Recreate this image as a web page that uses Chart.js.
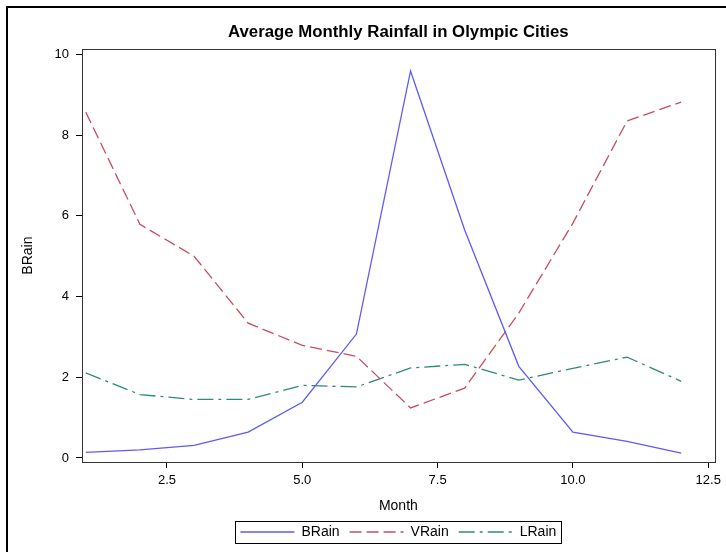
<!DOCTYPE html>
<html lang="en">
<head>
<meta charset="UTF-8">
<title>Average Monthly Rainfall in Olympic Cities</title>
<style>
  body { margin: 0; background: #fff; overflow: hidden; }
  #wrap { position: relative; width: 726px; height: 552px; }
  #frame { position: absolute; left: 6px; top: 6px; width: 800px; height: 600px; border: 2px solid #000; }
  canvas { position: absolute; left: 0; top: 0; }
</style>
</head>
<body>
<div id="wrap">
  <div id="frame"></div>
  <canvas id="myChart" width="726" height="552"></canvas>
</div>

<script src="https://cdn.jsdelivr.net/npm/chart.js"></script>
<script>
  // values
  const months = [1, 2, 3, 4, 5, 6, 7, 8, 9, 10, 11, 12];
  const bRain = [0.14, 0.20, 0.31, 0.64, 1.38, 3.07, 9.59, 5.65, 2.27, 0.64, 0.41, 0.12];
  const vRain = [8.57, 5.79, 5.00, 3.34, 2.79, 2.52, 1.24, 1.73, 3.59, 5.82, 8.35, 8.82];
  const lRain = [2.11, 1.57, 1.45, 1.45, 1.80, 1.76, 2.23, 2.32, 1.93, 2.22, 2.50, 1.90];

  const xTicks = [2.5, 5.0, 7.5, 10.0, 12.5];
  const yTicks = [0, 2, 4, 6, 8, 10];

  const font = 'Arial, "Liberation Sans", sans-serif';

  function toPoints(ys) {
    return months.map((m, i) => ({ x: m, y: ys[i] }));
  }

  // box round the plot area and round the legend
  const frames = {
    id: 'frames',
    afterDraw(chart) {
      const ctx = chart.ctx;
      const a = chart.chartArea;
      ctx.save();
      ctx.strokeStyle = '#333';
      ctx.lineWidth = 1;
      ctx.setLineDash([]);
      ctx.strokeRect(Math.round(a.left) + 0.5, Math.round(a.top) + 0.5,
        Math.round(a.right - a.left), Math.round(a.bottom - a.top));

      const boxes = chart.legend.legendHitBoxes;
      if (boxes && boxes.length) {
        let l = Infinity, r = -Infinity, t = Infinity, b = -Infinity;
        boxes.forEach(h => {
          l = Math.min(l, h.left); r = Math.max(r, h.left + h.width);
          t = Math.min(t, h.top); b = Math.max(b, h.top + h.height);
        });
        ctx.strokeStyle = '#000';
        ctx.strokeRect(Math.round(l - 5) + 0.5, Math.round(t - 4) + 0.5,
          Math.round(r - l + 10), Math.round(b - t + 8));
      }
      ctx.restore();
    }
  };

  const ctx = document.getElementById('myChart');

  new Chart(ctx, {
    type: 'line',
    data: {
      datasets: [{
        label: 'BRain',
        data: toPoints(bRain),
        borderColor: '#5c5cf2',
        backgroundColor: '#5c5cf2',
        borderWidth: 1.3
      }, {
        label: 'VRain',
        data: toPoints(vRain),
        borderColor: '#c84c60',
        backgroundColor: '#c84c60',
        borderWidth: 1.3,
        borderDash: [12, 5]
      }, {
        label: 'LRain',
        data: toPoints(lRain),
        borderColor: '#2e8a7a',
        backgroundColor: '#2e8a7a',
        borderWidth: 1.3,
        borderDash: [16, 5, 3, 5]
      }]
    },
    options: {
      responsive: false,
      animation: false,
      layout: { padding: { left: 0, right: 10, top: 0, bottom: 3 } },
      elements: {
        point: { radius: 0, hoverRadius: 0 },
        line: { tension: 0 }
      },
      scales: {
        x: {
          type: 'linear',
          min: 0.93,
          max: 12.62,
          afterBuildTicks: (s) => { s.ticks = xTicks.map(v => ({ value: v })); },
          afterFit: (s) => { s.height = 53; },
          border: { display: false },
          grid: { drawOnChartArea: false, drawTicks: true, tickLength: 6, color: '#000' },
          ticks: {
            padding: 5,
            color: '#000',
            font: { family: font, size: 13 },
            callback: (v) => Number(v).toFixed(1)
          },
          title: {
            display: true,
            text: 'Month',
            color: '#000',
            font: { family: font, size: 14 },
            padding: { top: 0, bottom: 0 }
          }
        },
        y: {
          min: -0.1,
          max: 10.13,
          afterBuildTicks: (s) => { s.ticks = yTicks.map(v => ({ value: v })); },
          afterFit: (s) => { s.width = 82; },
          border: { display: false },
          grid: { drawOnChartArea: false, drawTicks: true, tickLength: 6, color: '#000' },
          ticks: {
            padding: 7,
            color: '#000',
            font: { family: font, size: 13 },
            callback: (v) => String(v)
          },
          title: {
            display: true,
            text: 'BRain',
            color: '#000',
            font: { family: font, size: 14 },
            padding: { top: 20, bottom: 0 }
          }
        }
      },
      plugins: {
        title: {
          display: true,
          fullSize: false,
          text: 'Average Monthly Rainfall in Olympic Cities',
          color: '#000',
          font: { family: font, size: 16.8, weight: 'bold' },
          padding: { top: 22, bottom: 7 }
        },
        legend: {
          position: 'bottom',
          fullSize: false,
          labels: {
            usePointStyle: true,
            pointStyle: 'line',
            pointStyleWidth: 54,
            boxHeight: 14,
            padding: 10,
            color: '#000',
            font: { family: font, size: 14 },
            generateLabels: (chart) => {
              const items = Chart.defaults.plugins.legend.labels.generateLabels(chart);
              items.forEach(it => {
                const ds = chart.data.datasets[it.datasetIndex];
                it.lineDash = ds.borderDash || [];
                it.lineWidth = ds.borderWidth;
                it.strokeStyle = ds.borderColor;
              });
              return items;
            }
          }
        },
        tooltip: { enabled: false }
      }
    },
    plugins: [frames]
  });
</script>
</body>
</html>
